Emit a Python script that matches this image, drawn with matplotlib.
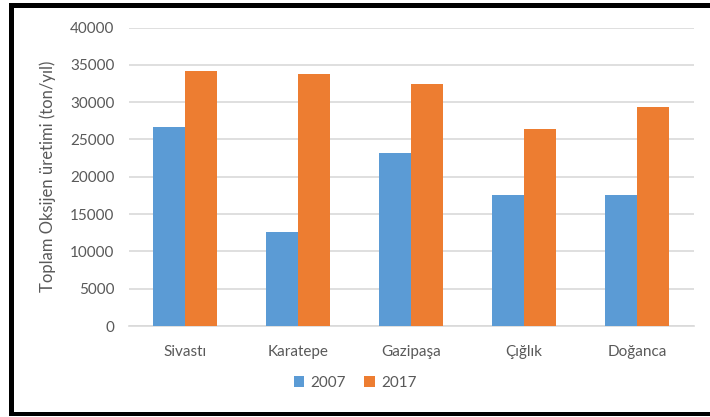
import numpy as np
import matplotlib.pyplot as plt
from matplotlib.patches import Rectangle

categories = ["Sivastı", "Karatepe", "Gazipaşa", "Çığlık", "Doğanca"]
values_2007 = [26600, 12650, 23150, 17600, 17600]
values_2017 = [34150, 33800, 32400, 26450, 29350]
series_labels = ["2007", "2017"]
yticks = [0, 5000, 10000, 15000, 20000, 25000, 30000, 35000, 40000]

plt.rcParams['font.family'] = ['Lato', 'DejaVu Sans']
text_color = "#595959"

W, H = 710, 417
fig = plt.figure(figsize=(7.1, 4.17), dpi=100)
ax = fig.add_axes([128.5 / W, 1 - 326 / H, 565 / W, (326 - 27.5) / H])

x = np.arange(len(categories))
w = 0.283
ax.bar(x - w / 2, values_2007, w, color="#5B9BD5", label=series_labels[0], zorder=3)
ax.bar(x + w / 2, values_2017, w, color="#ED7D31", label=series_labels[1], zorder=3)

ax.set_xlim(-0.5, len(categories) - 0.5)
ax.set_ylim(0, 40000)
ax.set_yticks(yticks)
ax.set_yticklabels([str(t) for t in yticks])
ax.set_xticks(x)
ax.set_xticklabels(categories)
ax.tick_params(axis="both", length=0, labelsize=11, colors=text_color)
ax.tick_params(axis="x", pad=14)
ax.tick_params(axis="y", pad=10)
ax.yaxis.grid(True, color="#d9d9d9", linewidth=1.2, zorder=0)
for s in ["top", "right", "left"]:
    ax.spines[s].set_visible(False)
ax.spines["bottom"].set_color("#d9d9d9")
ax.spines["bottom"].set_linewidth(1.2)

ax.set_ylabel("Toplam Oksijen üretimi (ton/yıl)", fontsize=12, color=text_color, labelpad=10)

fig.legend(loc="center", bbox_to_anchor=(0.5, 1 - 383 / H), ncol=2, frameon=False,
           fontsize=11, labelcolor=text_color, handlelength=0.7, handleheight=0.7,
           handletextpad=0.4, columnspacing=1.2)

# black frame: top, left and bottom edges only
def black_box(x0, y0, x1, y1):
    fig.patches.append(Rectangle((x0 / W, 1 - y1 / H), (x1 - x0) / W, (y1 - y0) / H,
                                 transform=fig.transFigure, color="black", lw=0))

black_box(9, 3, W, 7.5)
black_box(9, 3, 13.5, 416)
black_box(9, 411.5, W, 416)

fig.savefig("out.png", dpi=100)
